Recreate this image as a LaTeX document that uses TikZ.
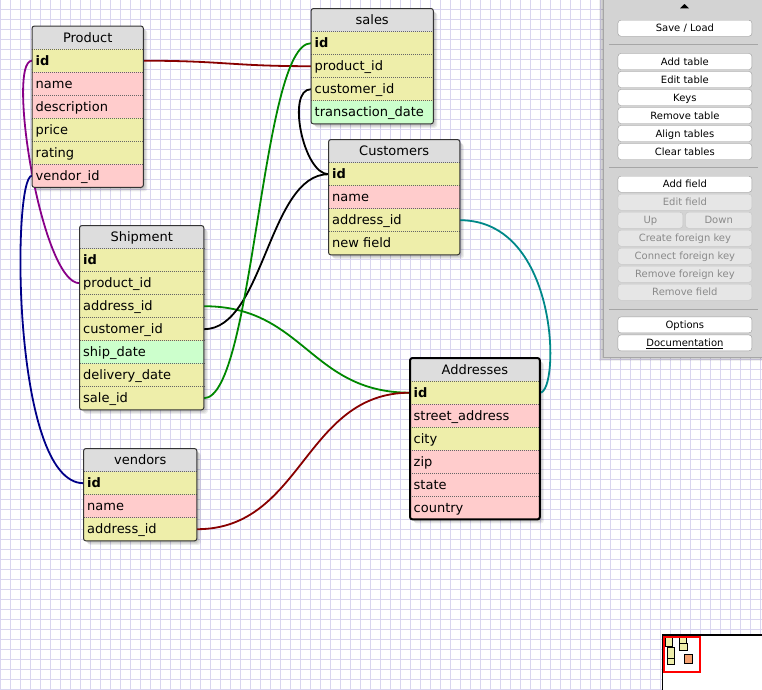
\documentclass[tikz,border=0pt]{standalone}
\usepackage{fontspec}
\setmainfont{DejaVu Sans}
\usetikzlibrary{backgrounds}

\definecolor{gridc}{HTML}{D9D5EF}
\definecolor{rowyel}{HTML}{EEEEAA}
\definecolor{rowpink}{HTML}{FFCCCC}
\definecolor{rowgreen}{HTML}{CCFFCC}
\definecolor{headgray}{HTML}{DDDDDD}
\definecolor{sepgray}{HTML}{666666}
\definecolor{framegray}{HTML}{333333}
\definecolor{relred}{HTML}{880000}
\definecolor{relpurple}{HTML}{880088}
\definecolor{relblue}{HTML}{000088}
\definecolor{relgreen}{HTML}{008800}
\definecolor{relteal}{HTML}{008888}
\definecolor{panelgray}{HTML}{D3D3D3}
\definecolor{paneledge}{HTML}{A6A6A6}
\definecolor{btnborder}{HTML}{9A9A9A}
\definecolor{btnofffill}{HTML}{E6E6E6}
\definecolor{btnoffborder}{HTML}{C4C4C4}
\definecolor{btnofftext}{HTML}{8A8A8A}
\definecolor{minisel}{HTML}{F4A070}

\tikzset{
  gridline/.style={draw=gridc, line width=1pt},
  headcell/.style={anchor=north west, fill=headgray, minimum height=23pt, inner sep=0pt,
    text height=12pt, text depth=3pt, font=\fontsize{13}{15}\selectfont},
  rowcell/.style={anchor=north west, minimum height=23pt, inner sep=0pt},
  celltext/.style={anchor=west, inner xsep=3.5pt, inner ysep=0pt,
    text height=12pt, text depth=3pt, font=\fontsize{13}{15}\selectfont},
  sepline/.style={draw=sepgray, line width=0.8pt, dash pattern=on 1pt off 1pt},
  frame/.style={draw=framegray, line width=1pt, rounded corners=2.5pt},
  selframe/.style={draw=black, line width=2pt, rounded corners=2.5pt},
  rel/.style={line width=1.8pt},
  btn/.style={anchor=north west, draw=btnborder, fill=white, rounded corners=3pt,
    minimum height=16pt, inner sep=0pt, text height=9.3pt, text depth=2pt,
    font=\fontsize{10}{12}\selectfont},
  btnoff/.style={btn, fill=btnofffill, draw=btnoffborder, text=btnofftext},
  panelsep/.style={draw=paneledge, line width=1pt},
  minitable/.style={draw=black, line width=1pt, fill=rowyel},
}

% table: prefix, x, y, width, title, rows (name/fill/text)
\newcommand{\dbtable}[6]{%
  \node[headcell, minimum width=#4pt] (#1-head) at (#2,#3) {#5};
  \foreach \nm/\fl/\tx [count=\i from 0] in {#6} {
    \node[rowcell, minimum width=#4pt, fill=\fl, label={[celltext]west:\tx}]
      (#1-\nm) at (#2,#3+23+23*\i) {};
    \draw[sepline] (#1-\nm.north west) -- (#1-\nm.north east);
  }%
}

% soft drop shadow below a table
\newcommand{\tabshadow}[2]{%
  \foreach \k in {1,2,3,4}
    \fill[black, opacity=0.07, rounded corners=3pt]
      ([xshift=\k*1pt, yshift=-\k*1pt]#1.north west) rectangle
      ([xshift=\k*1pt, yshift=-\k*1pt]#2.south east);%
}

\begin{document}
\begin{tikzpicture}[x=1pt, y=-1pt]
\useasboundingbox (0,0) rectangle (762,689);

% canvas and its grid
\begin{pgfonlayer}{background}
  \fill[white] (-2,-2) rectangle (765,692);
  \foreach \gx in {0,...,76} \draw[gridline] (\gx*10+0.5,-2) -- (\gx*10+0.5,692);
  \foreach \gy in {0,...,68} \draw[gridline] (-2,\gy*10+9.5) -- (765,\gy*10+9.5);
\end{pgfonlayer}

% tables
\dbtable{P}{32}{26}{111}{Product}{id/rowyel/\textbf{id}, name/rowpink/name,
  desc/rowpink/description, price/rowyel/price, rating/rowyel/rating,
  vid/rowpink/vendor\_id}
\draw[frame] (P-head.north west) rectangle (P-vid.south east);

\dbtable{S}{311}{8.5}{122}{sales}{id/rowyel/\textbf{id}, pid/rowyel/product\_id,
  cid/rowyel/customer\_id, tdate/rowgreen/transaction\_date}
\draw[frame] (S-head.north west) rectangle (S-tdate.south east);

\dbtable{C}{328.5}{139.5}{131}{Customers}{id/rowyel/\textbf{id}, name/rowpink/name,
  aid/rowyel/address\_id, newf/rowyel/new field}
\draw[frame] (C-head.north west) rectangle (C-newf.south east);

\dbtable{Sh}{79.5}{225.5}{124}{Shipment}{id/rowyel/\textbf{id}, pid/rowyel/product\_id,
  aid/rowyel/address\_id, cid/rowyel/customer\_id, sdate/rowgreen/ship\_date,
  ddate/rowyel/delivery\_date, sid/rowyel/sale\_id}
\draw[frame] (Sh-head.north west) rectangle (Sh-sid.south east);

\dbtable{V}{83.5}{448.5}{113}{vendors}{id/rowyel/\textbf{id}, name/rowpink/name,
  aid/rowyel/address\_id}
\draw[frame] (V-head.north west) rectangle (V-aid.south east);

\dbtable{A}{410}{358}{129.5}{Addresses}{id/rowyel/\textbf{id}, street/rowpink/street\_address,
  city/rowyel/city, zip/rowpink/zip, state/rowpink/state, country/rowpink/country}
\draw[selframe] (A-head.north west) rectangle (A-country.south east);

% shadows and relations beneath the tables
\begin{pgfonlayer}{background}
  \tabshadow{P-head}{P-vid}
  \tabshadow{S-head}{S-tdate}
  \tabshadow{C-head}{C-newf}
  \tabshadow{Sh-head}{Sh-sid}
  \tabshadow{V-head}{V-aid}
  \tabshadow{A-head}{A-country}

  \draw[rel, relred] (P-id.east) .. controls +(80,0) and +(-80,0) .. (S-pid.west);
  \draw[rel, relpurple] (P-id.west) .. controls +(-26,0) and +(-38,0) .. (Sh-pid.west);
  \draw[rel, relblue] (P-vid.west) .. controls +(-20,0) and +(-72,0) .. (V-id.west);
  \draw[rel, relgreen] (Sh-aid.east) .. controls +(100,0) and +(-100,0) .. (A-id.west);
  \draw[rel, black] (Sh-cid.east) .. controls +(60,0) and +(-60,0) .. (C-id.west);
  \draw[rel, relgreen] (Sh-sid.east) .. controls +(50,0) and +(-50,0) .. (S-id.west);
  \draw[rel, black] (S-cid.west) .. controls +(-25,0) and +(-25,0) .. (C-id.west);
  \draw[rel, relteal] (C-aid.east) .. controls +(100,0) and +(20,0) .. (A-id.east);
  \draw[rel, relred] (V-aid.east) .. controls +(106,0) and +(-106,0) .. (A-id.west);
\end{pgfonlayer}

% tool panel
\foreach \k in {1,2,3,4}
  \fill[black, opacity=0.06] (603-\k,-2) rectangle (770,357+\k);
\fill[panelgray] (603,-2) rectangle (770,357);
\draw[panelsep] (603,-2) -- (603,357) -- (770,357);
\fill[black] (680,8.3) -- (684.5,4) -- (689,8.3) -- cycle;

\node[btn, minimum width=134pt] (bsave) at (617.7,20) {Save / Load};
\draw[panelsep] (609,44.3) -- (758,44.3);
\node[btn, minimum width=134pt] (baddt) at (617.7,53.3) {Add table};
\node[btn, minimum width=134pt] (bedtt) at (617.7,71.3) {Edit table};
\node[btn, minimum width=134pt] (bkeys) at (617.7,89.3) {Keys};
\node[btn, minimum width=134pt] (bremt) at (617.7,107.3) {Remove table};
\node[btn, minimum width=134pt] (balign) at (617.7,125.3) {Align tables};
\node[btn, minimum width=134pt] (bclear) at (617.7,143.3) {Clear tables};
\draw[panelsep] (609,167.3) -- (758,167.3);
\node[btn, minimum width=134pt] (baddf) at (617.7,176) {Add field};
\node[btnoff, minimum width=134pt] (bedtf) at (617.7,194) {Edit field};
\node[btnoff, minimum width=65pt] (bup) at (617.7,212) {Up};
\node[btnoff, minimum width=66.4pt] (bdown) at (685.3,212) {Down};
\node[btnoff, minimum width=134pt] (bcfk) at (617.7,230) {Create foreign key};
\node[btnoff, minimum width=134pt] (bconfk) at (617.7,248) {Connect foreign key};
\node[btnoff, minimum width=134pt] (brfk) at (617.7,266) {Remove foreign key};
\node[btnoff, minimum width=134pt] (bremf) at (617.7,284) {Remove field};
\draw[panelsep] (609,309) -- (758,309);
\node[btn, minimum width=134pt] (bopt) at (617.7,316.7) {Options};
\node[btn, minimum width=134pt] (bdoc) at (617.7,334.7) {\underline{Documentation}};

% overview map
\draw[line width=1.5pt, fill=white] (662.3,635) rectangle (775,700);
\draw[minitable] (665.7,637.7) rectangle (672.3,646.7);
\draw[minitable] (679.3,637.7) rectangle (686.3,643.3);
\draw[minitable] (679.3,643.3) rectangle (687.3,650.3);
\draw[minitable] (667.3,647.3) rectangle (674.7,658.7);
\draw[minitable] (667.3,658.7) rectangle (674.7,664.3);
\draw[minitable, fill=minisel] (684.3,654) rectangle (692.7,663.7);
\draw[red, line width=2pt] (664,636.5) rectangle (700,672);
\end{tikzpicture}
\end{document}
